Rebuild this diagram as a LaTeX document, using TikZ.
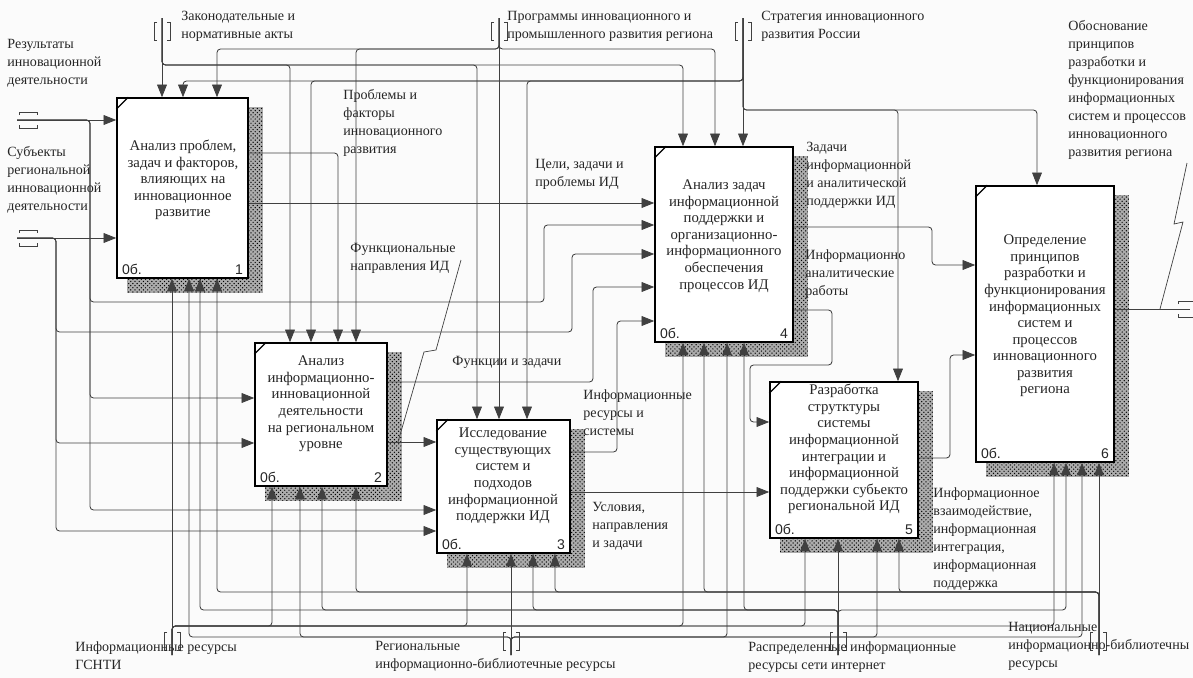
\documentclass[tikz,border=0pt]{standalone}
\usepackage{fontspec}
\setmainfont{Liberation Serif}
\setsansfont{Liberation Sans}
\usepackage{tikz}
\usetikzlibrary{arrows.meta}
\usetikzlibrary{calc}
\usetikzlibrary{positioning}
\usetikzlibrary{patterns,backgrounds}

\newcommand\lblfont{\fontsize{10pt}{12.8pt}\selectfont}
\newcommand\boxfont{\fontsize{10.5pt}{11.8pt}\selectfont}

\tikzset{
  vtunnel/.pic={\draw[tunnel] (-5,-9) -- (-8,-9) -- (-8,9) -- (-5,9);
                \draw[tunnel] (5,-9) -- (8,-9) -- (8,9) -- (5,9);},
  htunnel/.pic={\draw[tunnel] (-9,-5) -- (-9,-8) -- (9,-8) -- (9,-5);
                \draw[tunnel] (-9,5) -- (-9,8) -- (9,8) -- (9,5);}
}

\begin{document}
\begin{tikzpicture}[x=0.025cm, y=-0.025cm, >={Triangle[length=9pt,width=7pt]}, semithick]
 \tikzstyle{func}=[draw, line width=1.1pt, fill=white, inner sep=0pt]
 \tikzstyle{boxtxt}=[align=center, font=\boxfont, inner sep=0pt, text=black!85]
 \tikzstyle{numlbl}=[font=\sffamily\fontsize{10pt}{12pt}\selectfont, inner sep=1pt, text=black!85]
 \tikzstyle{lbl}=[anchor=north west, align=left, font=\lblfont, inner sep=0pt, text=black!85]
 \tikzstyle{arr}=[->, draw=black!75, line width=0.6pt, rounded corners=2.5pt]
 \tikzstyle{squig}=[draw=black!75, line width=0.5pt]
 \tikzstyle{tunnel}=[draw=black!75, line width=0.5pt]
 \tikzstyle{tick}=[line width=0.9pt]
 \tikzstyle{shadowbox}=[fill=gray!65, postaction={pattern=crosshatch dots, pattern color=black}]

 \useasboundingbox (0,0) rectangle (1193,678);

 \node[func, minimum width=3.275cm, minimum height=4.5cm]   (b1) at (182.5,188) {};
 \node[func, minimum width=3.3cm,   minimum height=3.575cm] (b2) at (321,414.5) {};
 \node[func, minimum width=3.325cm, minimum height=3.325cm] (b3) at (503.5,486.5) {};
 \node[func, minimum width=3.45cm,  minimum height=4.875cm] (b4) at (724,244.5) {};
 \node[func, minimum width=3.7cm,   minimum height=3.9cm]   (b5) at (844,460) {};
 \node[func, minimum width=3.45cm,  minimum height=6.9cm]   (b6) at (1045,324) {};

 \node[boxtxt] (b1t) at (183,180) {Анализ проблем,\\задач и факторов,\\влияющих на\\инновационное\\развитие};
 \node[boxtxt] (b2t) at (321,404) {Анализ\\информационно-\\инновационной\\деятельности\\на региональном\\уровне};
 \node[boxtxt] (b3t) at (503,476) {Исследование\\существующих\\систем и\\подходов\\информационной\\поддержки ИД};
 \node[boxtxt] (b4t) at (724,236) {Анализ задач\\информационной\\поддержки и\\организационно-\\информационного\\обеспечения\\процессов ИД};
 \node[boxtxt] (b5t) at (844,449) {Разработка\\струтктуры\\системы\\информационной\\интеграции и\\информационной\\поддержки субьекто\\региональной ИД};
 \node[boxtxt] (b6t) at (1045,316) {Определение\\принципов\\разработки и\\функционирования\\информационных\\систем и\\процессов\\инновационного\\развития\\региона};

 \node[numlbl, anchor=south west] (b1o) at ($(b1.south west)+(4,-2)$) {0б.};
 \node[numlbl, anchor=south east] (b1n) at ($(b1.south east)+(-4,-2)$) {1};
 \node[numlbl, anchor=south west] (b2o) at ($(b2.south west)+(4,-2)$) {0б.};
 \node[numlbl, anchor=south east] (b2n) at ($(b2.south east)+(-4,-2)$) {2};
 \node[numlbl, anchor=south west] (b3o) at ($(b3.south west)+(4,-2)$) {0б.};
 \node[numlbl, anchor=south east] (b3n) at ($(b3.south east)+(-4,-2)$) {3};
 \node[numlbl, anchor=south west] (b4o) at ($(b4.south west)+(4,-2)$) {0б.};
 \node[numlbl, anchor=south east] (b4n) at ($(b4.south east)+(-4,-2)$) {4};
 \node[numlbl, anchor=south west] (b5o) at ($(b5.south west)+(4,-2)$) {0б.};
 \node[numlbl, anchor=south east] (b5n) at ($(b5.south east)+(-4,-2)$) {5};
 \node[numlbl, anchor=south west] (b6o) at ($(b6.south west)+(4,-2)$) {0б.};
 \node[numlbl, anchor=south east] (b6n) at ($(b6.south east)+(-4,-2)$) {6};

 \draw[tick] ($(b1.north west)+(0,12)$) -- ($(b1.north west)+(12,0)$);
 \draw[tick] ($(b2.north west)+(0,12)$) -- ($(b2.north west)+(12,0)$);
 \draw[tick] ($(b3.north west)+(0,12)$) -- ($(b3.north west)+(12,0)$);
 \draw[tick] ($(b4.north west)+(0,12)$) -- ($(b4.north west)+(12,0)$);
 \draw[tick] ($(b5.north west)+(0,12)$) -- ($(b5.north west)+(12,0)$);
 \draw[tick] ($(b6.north west)+(0,12)$) -- ($(b6.north west)+(12,0)$);

 \begin{scope}[on background layer]
  \fill[gray!3] (0,0) rectangle (1193,678);
  \path[shadowbox] ($(b1.north west)+(11,10)$) rectangle ($(b1.south east)+(14,14)$);
  \path[shadowbox] ($(b2.north west)+(11,10)$) rectangle ($(b2.south east)+(14,14)$);
  \path[shadowbox] ($(b3.north west)+(11,10)$) rectangle ($(b3.south east)+(14,14)$);
  \path[shadowbox] ($(b4.north west)+(11,10)$) rectangle ($(b4.south east)+(14,14)$);
  \path[shadowbox] ($(b5.north west)+(11,10)$) rectangle ($(b5.south east)+(14,14)$);
  \path[shadowbox] ($(b6.north west)+(11,10)$) rectangle ($(b6.south east)+(14,14)$);
 \end{scope}

 \coordinate (zakon)  at (162,18);
 \coordinate (prog)   at (499,18);
 \coordinate (strat)  at (743,18);
 \coordinate (rez)    at (17,120);
 \coordinate (subj)   at (17,238);
 \coordinate (obosn)  at (1190,309);
 \coordinate (gsnti)  at (172,655);
 \coordinate (regres) at (511,655);
 \coordinate (raspr)  at (838,655);
 \coordinate (nacres) at (1099,655);

 \pic at (162,31) {vtunnel};
 \pic at (499,31) {vtunnel};
 \pic at (743,31) {vtunnel};
 \pic at (28,120) {htunnel};
 \pic at (28,238) {htunnel};
 \pic at (1187,309) {htunnel};
 \pic at (172,641) {vtunnel};
 \pic at (511,641) {vtunnel};
 \pic at (838,641) {vtunnel};
 \pic at (1098,641) {vtunnel};

 \draw[arr] (zakon) -- (zakon |- b1.north);
 \draw[arr] (zakon) |- (290,65) -- (290,0 |- b2.north);
 \draw[arr] (zakon) |- (477,65) -- (477,0 |- b3.north);
 \draw[arr] (zakon) |- (683,65) -- (683,0 |- b4.north);

 \draw[arr] (prog) -- (prog |- b3.north);
 \draw[arr] (prog) |- (217,49) -- (217,0 |- b1.north);
 \draw[arr] (prog) |- (356,49) -- (356,0 |- b2.north);
 \draw[arr] (prog) |- (715,49) -- (715,0 |- b4.north);

 \draw[arr] (strat) -- (strat |- b4.north);
 \draw[arr] (strat) |- (183,81) -- (183,0 |- b1.north);
 \draw[arr] (strat) |- (311,81) -- (311,0 |- b2.north);
 \draw[arr] (strat) |- (527,81) -- (527,0 |- b3.north);
 \draw[arr] (strat) |- (898,110) -- (898,0 |- b5.north);
 \draw[arr] (strat) |- (1037,110) -- (1037,0 |- b6.north);

 \draw[arr] (rez) -- (rez -| b1.west);
 \draw[arr] (rez) -| (90,302) -- (544,302) |- (b4.west |- 0,225);
 \draw[arr] (rez) -| (90,398) -- (b2.west |- 0,398);
 \draw[arr] (rez) -| (90,510) -- (b3.west |- 0,510);

 \draw[arr] (subj) -- (subj -| b1.west);
 \draw[arr] (subj) -| (56,332) -- (572,332) |- (b4.west |- 0,254);
 \draw[arr] (subj) -| (56,443) -- (b2.west |- 0,443);
 \draw[arr] (subj) -| (56,531) -- (b3.west |- 0,531);

 \draw[arr] (b1.east |- 0,153) -| (338,0 |- b2.north);
 \draw[arr] (b1.east |- 0,203) -- (b4.west |- 0,203);
 \draw[arr] (b2.east |- 0,382) -- (593,382) |- (b4.west |- 0,287);
 \draw[arr] (b2.east |- 0,442) -- (b3.west |- 0,442);
 \draw[arr] (b3.east |- 0,452) -- (617,452) |- (b4.west |- 0,321);
 \draw[arr] (b3.east |- 0,492) -- (b5.west |- 0,492);
 \draw[arr] (b4.east |- 0,227) -- (932,227) |- (b6.west |- 0,265);
 \draw[arr] (b4.east |- 0,310) -- (832,310) -- (832,365) -- (750,365) |- (b5.west |- 0,422);
 \draw[arr] (b5.east |- 0,458) -- (950,458) |- (b6.west |- 0,355);
 \draw[arr, -] (b6.east |- 0,309) -- (obosn);

 \draw[arr] (gsnti) -- (gsnti |- b1.south);
 \draw[arr] (gsnti) |- (272,626) -- (272,0 |- b2.south);
 \draw[arr] (gsnti) |- (467,626) -- (467,0 |- b3.south);
 \draw[arr] (gsnti) |- (683,626) -- (683,0 |- b4.south);
 \draw[arr] (gsnti) |- (805,626) -- (805,0 |- b5.south);
 \draw[arr] (gsnti) |- (1054,626) -- (1054,0 |- b6.south);

 \draw[arr] (regres) -- (regres |- b3.south);
 \draw[arr] (regres) |- (189,637) -- (189,0 |- b1.south);
 \draw[arr] (regres) |- (300,637) -- (300,0 |- b2.south);
 \draw[arr] (regres) |- (727,637) -- (727,0 |- b4.south);
 \draw[arr] (regres) |- (877,637) -- (877,0 |- b5.south);
 \draw[arr] (regres) |- (1082,637) -- (1082,0 |- b6.south);

 \draw[arr] (raspr) -- (raspr |- b5.south);
 \draw[arr] (raspr) |- (200,610) -- (200,0 |- b1.south);
 \draw[arr] (raspr) |- (322,610) -- (322,0 |- b2.south);
 \draw[arr] (raspr) |- (533,610) -- (533,0 |- b3.south);
 \draw[arr] (raspr) |- (744,610) -- (744,0 |- b4.south);
 \draw[arr] (raspr) |- (1066,610) -- (1066,0 |- b6.south);

 \draw[arr] (nacres) -- (nacres |- b6.south);
 \draw[arr] (nacres) |- (217,592) -- (217,0 |- b1.south);
 \draw[arr] (nacres) |- (356,592) -- (356,0 |- b2.south);
 \draw[arr] (nacres) |- (555,592) -- (555,0 |- b3.south);
 \draw[arr] (nacres) |- (704,592) -- (704,0 |- b4.south);
 \draw[arr] (nacres) |- (899,592) -- (899,0 |- b5.south);

 \draw[squig] (461,260) -- (436,350) -- (424,352) -- (398,442);
 \draw[squig] (1187,163) -- (1174,224) -- (1183,222) -- (1160,309);

 \node[lbl] (l-zakon) at (181,11) {Законодательные и\\нормативные акты};
 \node[lbl] (l-prog)  at (507,11) {Программы инновационного и\\промышленного развития региона};
 \node[lbl] (l-strat) at (761,11) {Стратегия инновационного\\развития России};
 \node[lbl] (l-rez)   at (7,39)   {Результаты\\инновационной\\деятельности};
 \node[lbl] (l-subj)  at (7,146)  {Субъекты\\региональной\\инновационной\\деятельности};
 \node[lbl] (l-obosn) at (1068,20) {Обоснование\\принципов\\разработки и\\функционирования\\информационных\\систем и процессов\\инновационного\\развития региона};
 \node[lbl] (l-probl) at (343,89)  {Проблемы и\\факторы\\инновационного\\развития};
 \node[lbl] (l-celi)  at (535,159) {Цели, задачи и\\проблемы ИД};
 \node[lbl] (l-zad)   at (806,142) {Задачи\\информационной\\и аналитической\\поддержки ИД};
 \node[lbl] (l-fnapr) at (350,243) {Функциональные\\направления ИД};
 \node[lbl] (l-iar)   at (805,249) {Информационно\\аналитические\\работы};
 \node[lbl] (l-fz)    at (452,356) {Функции и задачи};
 \node[lbl] (l-irs)   at (583,389) {Информационные\\ресурсы и\\системы};
 \node[lbl] (l-usl)   at (592,502) {Условия,\\направления\\и задачи};
 \node[lbl] (l-vz)    at (933,487) {Информационное\\взаимодействие,\\информационная\\интеграция,\\информационная\\поддержка};
 \node[lbl] (l-gsnti) at (75,641)  {Информационные ресурсы\\ГСНТИ};
 \node[lbl] (l-reg)   at (375,641) {Региональные\\информационно-библиотечные ресурсы};
 \node[lbl] (l-rasp)  at (748,641) {Распределенные информационные\\ресурсы сети интернет};
 \node[lbl] (l-nac)   at (1008,622) {Национальные\\информационно-библиотечны\\ресурсы};
\end{tikzpicture}
\end{document}
